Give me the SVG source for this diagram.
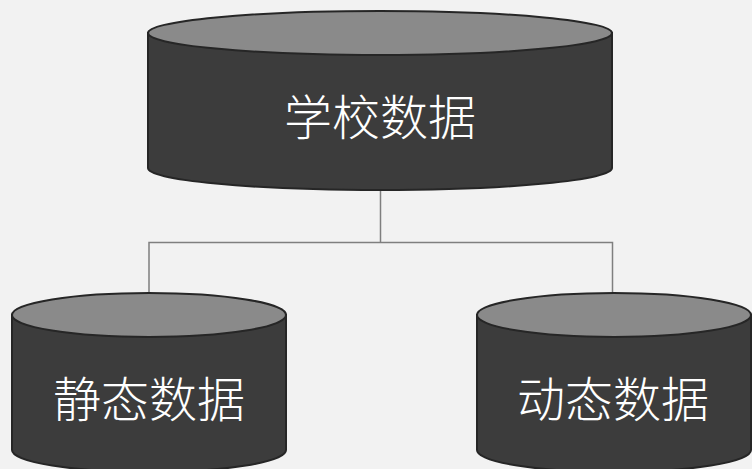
<svg xmlns="http://www.w3.org/2000/svg" width="752" height="469" viewBox="0 0 752 469">
<style>
.body{fill:#3c3c3c;stroke:#262626;stroke-width:2}
.top{fill:#8a8a8a;stroke:#262626;stroke-width:2}
.lbl{fill:#ffffff;font-family:"Noto Sans CJK SC","Noto Sans",sans-serif;font-size:48px;font-weight:300;text-anchor:middle}
.conn{fill:none;stroke:#7f7f7f;stroke-width:1.5}
</style>
<rect width="752" height="469" fill="#f2f2f2"/>
<g id="connectors">
<path class="conn" d="M380.5 190 V242.5 M149 292 V242.5 H612.5 V292"/>
</g>
<g id="school">
<path class="body" d="M148 33 V168 A232 22 0 0 0 612 168 V33 Z"/>
<ellipse class="top" cx="380" cy="33" rx="232" ry="22"/>
<text class="lbl" x="380" y="135">学校数据</text>
</g>
<g id="static">
<path class="body" d="M12 315 V450 A137 22 0 0 0 286 450 V315 Z"/>
<ellipse class="top" cx="149" cy="315" rx="137" ry="22"/>
<text class="lbl" x="149" y="417">静态数据</text>
</g>
<g id="dynamic">
<path class="body" d="M477 315 V450 A137 22 0 0 0 751 450 V315 Z"/>
<ellipse class="top" cx="614" cy="315" rx="137" ry="22"/>
<text class="lbl" x="613" y="417">动态数据</text>
</g>
</svg>
